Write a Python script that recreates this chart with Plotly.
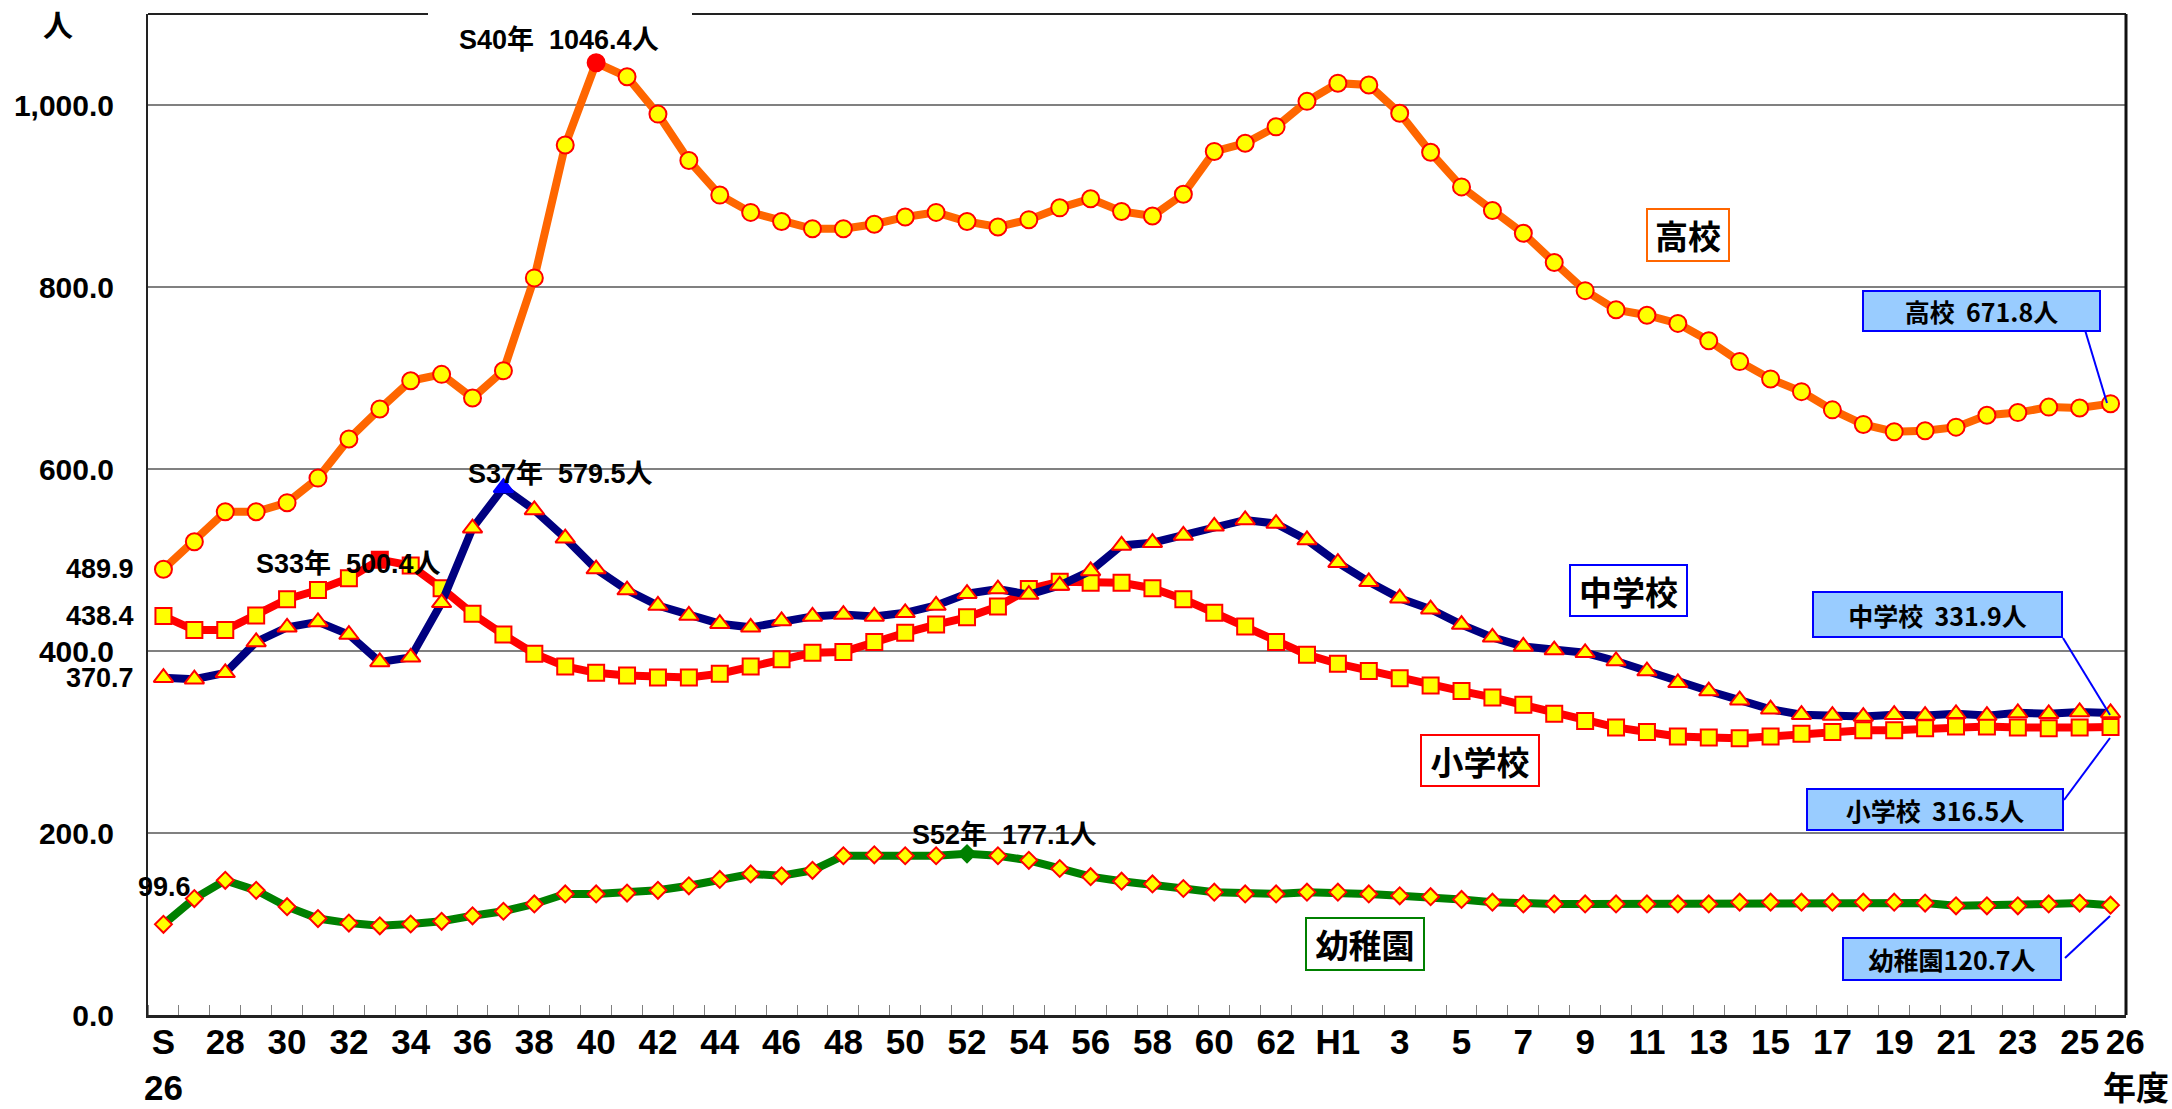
import plotly.graph_objects as go

# ---------------- data ----------------
years = ["S26", "S27", "S28", "S29", "S30", "S31", "S32", "S33", "S34", "S35",
         "S36", "S37", "S38", "S39", "S40", "S41", "S42", "S43", "S44", "S45",
         "S46", "S47", "S48", "S49", "S50", "S51", "S52", "S53", "S54", "S55",
         "S56", "S57", "S58", "S59", "S60", "S61", "S62", "S63",
         "H1", "H2", "H3", "H4", "H5", "H6", "H7", "H8", "H9", "H10",
         "H11", "H12", "H13", "H14", "H15", "H16", "H17", "H18", "H19", "H20",
         "H21", "H22", "H23", "H24", "H25", "H26"]

koukou = [489.9, 520, 553, 553, 563, 590, 633, 666, 697, 704,
          678, 708, 810, 956, 1046.4, 1031, 990, 939, 901, 882,
          872, 864, 864, 869, 877, 882, 872, 866, 874, 887,
          897, 883, 878, 902, 949, 958, 976, 1004,
          1024, 1022, 991, 948, 910, 884, 859, 827, 796, 775,
          769, 760, 741, 718, 699, 685, 665, 649, 641, 642,
          646, 659, 662, 668, 667, 671.8]

chugakkou = [370.7, 369, 376, 410, 426, 432, 418, 388, 393, 453,
             535, 579.5, 555, 524, 490, 467, 450, 439, 430, 426,
             433, 438, 440, 438, 442, 450, 463, 468, 462, 472,
             488, 516, 519, 527, 537, 544, 540, 522,
             497, 476, 458, 446, 429, 415, 405, 401, 398, 389,
             378, 365, 356, 346, 336, 330, 329, 328, 330, 329,
             331, 329, 332, 331, 333, 331.9]

shougakkou = [438.4, 423, 423, 439, 457, 467, 480, 500.4, 494, 469,
              441, 418, 397, 383, 376, 373, 371, 371, 375, 383,
              391, 398, 399, 410, 420, 429, 437, 449, 468, 476,
              475, 475, 469, 457, 442, 427, 410, 396,
              386, 378, 370, 362, 356, 349, 341, 331, 323, 316,
              311, 306, 305, 304, 306, 309, 311, 313, 313, 315,
              317, 317, 316, 315, 316, 316.5]

youchien = [99.6, 128, 148, 137, 119, 106, 101, 98, 100, 103,
            109, 114, 122, 133, 133, 134, 137, 142, 149, 155,
            153, 159, 175, 176, 175, 175, 177.1, 175, 170, 161,
            152, 147, 144, 139, 135, 133, 133, 135,
            135, 133, 131, 130, 127, 124, 122, 122, 122, 122,
            122, 122, 122, 124, 124, 124, 124, 124, 124, 123,
            120, 120, 120, 122, 123, 120.7]

tick_idx = [0, 2, 4, 6, 8, 10, 12, 14, 16, 18, 20, 22, 24, 26, 28, 30, 32, 34, 36,
            38, 40, 42, 44, 46, 48, 50, 52, 54, 56, 58, 60, 62, 63]
tick_text = ["S<br>26", "28", "30", "32", "34", "36", "38", "40", "42", "44", "46",
             "48", "50", "52", "54", "56", "58", "60", "62", "H1", "3", "5", "7",
             "9", "11", "13", "15", "17", "19", "21", "23", "25",
             "\u00a0\u00a0\u00a026"]
y_ticks = [0, 200, 400, 600, 800, 1000]

x = list(range(len(years)))

# ---------------- geometry helpers (pixel -> paper) ----------------
L, R, T, B = 148, 2126, 14, 1015
def px(v):
    return (v - L) / (R - L)
def py(v):
    return (B - v) / (B - T)

FONT = "Liberation Sans, Arial, Noto Sans CJK JP, sans-serif"
CJK = "Noto Sans CJK JP, Liberation Sans, sans-serif"
YELLOW = "#FFFF00"
RED = "#FF0000"

fig = go.Figure()

def add_series(vals, line_color, symbol, size, peak_color):
    pk = vals.index(max(vals))
    fill = [peak_color if i == pk else YELLOW for i in range(len(vals))]
    edge = [peak_color if i == pk else RED for i in range(len(vals))]
    fig.add_trace(go.Scatter(
        x=x, y=vals, mode="lines+markers",
        line=dict(color=line_color, width=8),
        marker=dict(symbol=symbol, size=size, color=fill, line=dict(color=edge, width=2)),
        hovertext=years, showlegend=False))
    return pk

pk_y = add_series(youchien, "#008000", "diamond", 13, "#008000")
pk_s = add_series(shougakkou, "#FF0000", "square", 16, "#FF0000")
pk_c = add_series(chugakkou, "#000080", "triangle-up", 17, "#0000FF")
pk_k = add_series(koukou, "#FF6600", "circle", 17, "#FF0000")

ann = []

def txt(xp, yp, text, size, bold=True, family=FONT, **kw):
    d = dict(x=px(xp), y=py(yp), xref="paper", yref="paper", text=text, showarrow=False,
             font=dict(size=size, family=family, color="black", weight=700 if bold else 400),
             xanchor="center", yanchor="middle")
    d.update(kw)
    ann.append(d)

NB = "\u00a0"
# peak labels
txt(559, 40, f"{years[pk_k]}年{NB}{NB}{koukou[pk_k]}人", 27)
txt(560, 474, f"{years[pk_c]}年{NB}{NB}{chugakkou[pk_c]}人", 27)
txt(348, 564, f"{years[pk_s]}年{NB}{NB}{shougakkou[pk_s]}人", 27)
txt(1004, 835, f"{years[pk_y]}年{NB}{NB}{youchien[pk_y]}人", 27)
txt(164, 887, f"{youchien[0]}", 27)

# first-year value labels on the y axis side
for v in (koukou[0], shougakkou[0], chugakkou[0]):
    ann.append(dict(x=px(136), y=v, xref="paper", yref="y", text=f"{v:.1f}", showarrow=False,
                    font=dict(size=27, family=FONT, color="black", weight=700),
                    xanchor="right", yanchor="middle"))

# unit labels
txt(58, 23, "人", 30, family=CJK)
txt(2136, 1086, "年度", 33, family=CJK)

# series name boxes
def box(xc, yc, w, h, text, size, border, bg="white", bw=2):
    ann.append(dict(x=px(xc), y=py(yc), xref="paper", yref="paper", text=text, showarrow=False,
                    font=dict(size=size, family=CJK, color="black", weight=700),
                    xanchor="center", yanchor="middle", bgcolor=bg, bordercolor=border,
                    borderwidth=bw, borderpad=0, width=w - 2 * bw, height=h - 2 * bw))

box(1688, 235, 84, 54, "高校", 33, "#FF6600")
box(1628, 590, 119, 53, "中学校", 33, "#0000FF")
box(1480, 760, 120, 53, "小学校", 33, "#FF0000")
box(1365, 944, 120, 54, "幼稚園", 33, "#008000")

# callout boxes for latest values
CB = "#99CCFF"
box(1981, 311, 239, 42, f"高校{NB}{NB}{koukou[-1]}人", 25, "#0000FF", bg=CB)
box(1937, 614, 251, 47, f"中学校{NB}{NB}{chugakkou[-1]}人", 25, "#0000FF", bg=CB)
box(1935, 809, 258, 43, f"小学校{NB}{NB}{shougakkou[-1]}人", 25, "#0000FF", bg=CB)
box(1952, 959, 220, 44, f"幼稚園{youchien[-1]}人", 25, "#0000FF", bg=CB)

shapes = []
def seg(x0, y0, x1, y1, color, width):
    shapes.append(dict(type="line", xref="paper", yref="paper",
                       x0=px(x0), y0=py(y0), x1=px(x1), y1=py(y1),
                       line=dict(color=color, width=width)))

# callout leader lines
seg(2085, 330, 2107, 403, "#0000FF", 2)
seg(2063, 638, 2110, 715, "#0000FF", 2)
seg(2064, 800, 2110, 738, "#0000FF", 2)
seg(2065, 958, 2110, 916, "#0000FF", 2)

# frame: top border with gap behind the S40 label, right border
seg(L, T, 428, T, "#222222", 2)
seg(692, T, R, T, "#222222", 2)
seg(R, T, R, B, "#111111", 3)

fig.update_layout(
    width=2172, height=1109,
    margin=dict(l=L, r=2172 - R, t=T, b=1109 - B, autoexpand=False),
    paper_bgcolor="white", plot_bgcolor="white",
    font=dict(family=FONT, color="black"),
    showlegend=False,
    annotations=ann, shapes=shapes,
    xaxis=dict(range=[-0.5, len(years) - 0.5], tickmode="array", tickvals=tick_idx,
               ticktext=tick_text, tickangle=0, ticks="", showgrid=False, zeroline=False,
               showline=True, linecolor="#222222", linewidth=3, automargin=False,
               tickfont=dict(size=35, family=FONT, color="black", weight=700),
               ticklabelstandoff=-6,
               minor=dict(tickmode="linear", tick0=-0.5, dtick=1, ticks="inside",
                          ticklen=10, tickwidth=1, tickcolor="#808080", showgrid=False)),
    yaxis=dict(range=[0, 1100], tickmode="array", tickvals=y_ticks, tickformat=",.1f",
               ticks="", showgrid=True, gridcolor="#808080", gridwidth=1.5, zeroline=False,
               showline=True, linecolor="#222222", linewidth=2, automargin=False,
               tickfont=dict(size=30, family=FONT, color="black", weight=700),
               ticklabelstandoff=26),
)

fig.write_html("out.html", config={"displayModeBar": False},
               post_script="document.body.style.margin='0px';document.body.style.overflow='hidden';")
